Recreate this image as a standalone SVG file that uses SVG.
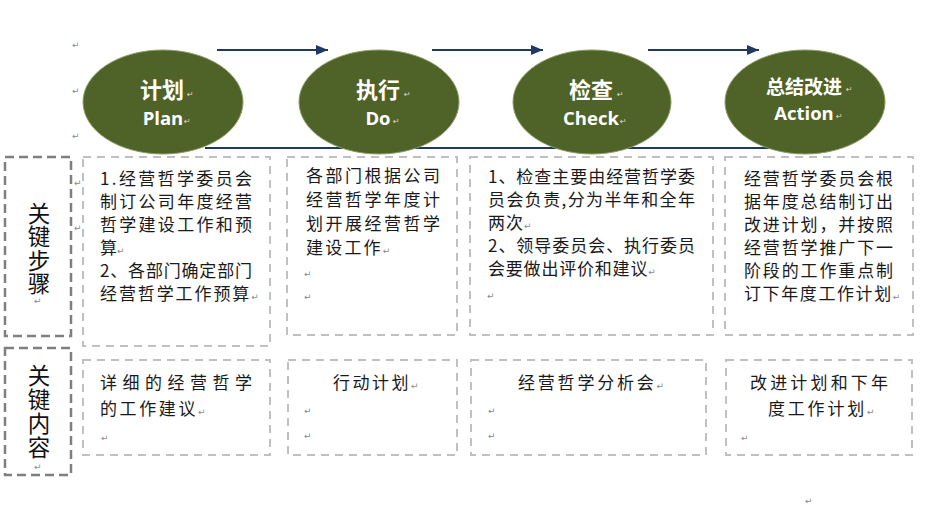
<svg xmlns="http://www.w3.org/2000/svg" width="929" height="505" viewBox="0 0 929 505">
<defs>
<marker id="ah" viewBox="0 0 12 10" refX="12" refY="5" markerWidth="12" markerHeight="10" markerUnits="userSpaceOnUse" orient="auto">
<path d="M0,0 L12,5 L0,10 Z" fill="#1f3864"/>
</marker>
</defs>
<style>
.ell{fill:#4f6228;stroke:#8c9c62;stroke-width:1}
.eh{font-family:"Noto Sans CJK SC","Noto Sans",sans-serif;font-weight:700;fill:#fff;text-anchor:middle}
.ee{font-family:"Open Sans","Noto Sans",sans-serif;font-weight:700;fill:#fff;text-anchor:middle;font-size:18.5px}
.box{fill:none;stroke:#c0c0c0;stroke-width:2;stroke-dasharray:8 6}
.lab{fill:none;stroke:#7f7f7f;stroke-width:2.5;stroke-dasharray:9 5}
.t{font-family:"Noto Sans CJK SC","Noto Sans",sans-serif;font-size:17px;fill:#1a1a1a}
.lt{font-family:"Noto Sans CJK SC","Noto Sans",sans-serif;font-size:22.5px;fill:#111;writing-mode:vertical-rl;text-orientation:upright}
.pm{font-family:"DejaVu Sans",sans-serif;font-size:9px;fill:#8a8a8a}
.pw{font-family:"DejaVu Sans",sans-serif;font-size:8px;fill:#d8dcc8}
.cn{stroke:#1f3864;stroke-width:2;fill:none}
</style>
<rect width="929" height="505" fill="#fff"/>

<g id="connectors">
<line class="cn" x1="205" y1="148" x2="790" y2="148"/>
<line class="cn" x1="217" y1="50" x2="328" y2="50" marker-end="url(#ah)"/>
<line class="cn" x1="432" y1="50" x2="543" y2="50" marker-end="url(#ah)"/>
<line class="cn" x1="648" y1="50" x2="759" y2="50" marker-end="url(#ah)"/>
</g>

<g id="marks" class="pm">
<text x="72" y="48">↵</text>
<text x="72" y="94">↵</text>
<text x="72" y="139">↵</text>
<text x="74" y="186">↵</text>
<text x="74" y="231">↵</text>
<text x="805" y="504">↵</text>
</g>

<g id="plan">
<ellipse class="ell" cx="163" cy="102" rx="80" ry="52"/>
<text class="eh" x="162" y="98" font-size="22">计划</text>
<text class="ee" x="163" y="124.5">Plan</text>
<text class="pw" x="187" y="97">↵</text>
<text class="pw" x="184" y="124">↵</text>
</g>
<g id="do">
<ellipse class="ell" cx="379" cy="102" rx="80" ry="52"/>
<text class="eh" x="378" y="98" font-size="22">执行</text>
<text class="ee" x="378" y="124.5">Do</text>
<text class="pw" x="404" y="97">↵</text>
<text class="pw" x="393" y="124">↵</text>
</g>
<g id="check">
<ellipse class="ell" cx="592" cy="102" rx="79" ry="52"/>
<text class="eh" x="591" y="98" font-size="22">检查</text>
<text class="ee" x="591" y="124.5">Check</text>
<text class="pw" x="617" y="97">↵</text>
<text class="pw" x="620" y="124">↵</text>
</g>
<g id="action">
<ellipse class="ell" cx="805" cy="102" rx="80" ry="52"/>
<text class="eh" x="804" y="94" font-size="19">总结改进</text>
<text class="ee" x="804" y="119.5">Action</text>
<text class="pw" x="846" y="92">↵</text>
<text class="pw" x="836" y="119">↵</text>
</g>

<g id="label-steps">
<rect class="lab" x="5" y="157" width="66" height="179"/>
<text class="lt" x="39" y="202" letter-spacing="1">关键步骤</text>
<text class="pm" x="34" y="304" font-size="7">↵</text>
</g>

<g id="plan-steps">
<rect class="box" x="83" y="157" width="187" height="189"/>
<text class="t" x="100" y="184.5" textLength="152" lengthAdjust="spacing">1.经营哲学委员会</text>
<text class="t" x="100" y="207.5" textLength="152" lengthAdjust="spacing">制订公司年度经营</text>
<text class="t" x="100" y="230.5" textLength="152" lengthAdjust="spacing">哲学建设工作和预</text>
<text class="t" x="100" y="253.5">算<tspan class="pm">↵</tspan></text>
<text class="t" x="100" y="276.5" textLength="152" lengthAdjust="spacing">2、各部门确定部门</text>
<text class="t" x="100" y="299.5" letter-spacing="1.9">经营哲学工作预算<tspan class="pm" letter-spacing="0">↵</tspan></text>
</g>

<g id="do-steps">
<rect class="box" x="287" y="157" width="170" height="178"/>
<text class="t" x="306" y="181.5" textLength="134" lengthAdjust="spacing">各部门根据公司</text>
<text class="t" x="306" y="205.5" textLength="134" lengthAdjust="spacing">经营哲学年度计</text>
<text class="t" x="306" y="229.5" textLength="134" lengthAdjust="spacing">划开展经营哲学</text>
<text class="t" x="306" y="253.5" letter-spacing="2.2">建设工作<tspan class="pm" letter-spacing="0">↵</tspan></text>
<text class="pm" x="304" y="277">↵</text>
<text class="pm" x="304" y="300">↵</text>
</g>

<g id="check-steps">
<rect class="box" x="470" y="157" width="243" height="178"/>
<text class="t" x="488" y="183" textLength="207" lengthAdjust="spacing">1、检查主要由经营哲学委</text>
<text class="t" x="488" y="206" textLength="207" lengthAdjust="spacing">员会负责,分为半年和全年</text>
<text class="t" x="488" y="229" letter-spacing="1">两次<tspan class="pm" letter-spacing="0">↵</tspan></text>
<text class="t" x="488" y="252" textLength="207" lengthAdjust="spacing">2、领导委员会、执行委员</text>
<text class="t" x="488" y="275" letter-spacing="0.8">会要做出评价和建议<tspan class="pm" letter-spacing="0">↵</tspan></text>
<text class="pm" x="487" y="299">↵</text>
</g>

<g id="action-steps">
<rect class="box" x="725" y="157" width="188" height="178"/>
<text class="t" x="744" y="184.5" textLength="149" lengthAdjust="spacing">经营哲学委员会根</text>
<text class="t" x="744" y="207.5" textLength="149" lengthAdjust="spacing">据年度总结制订出</text>
<text class="t" x="744" y="230.5" textLength="149" lengthAdjust="spacing">改进计划，并按照</text>
<text class="t" x="744" y="253.5" textLength="149" lengthAdjust="spacing">经营哲学推广下一</text>
<text class="t" x="744" y="276.5" textLength="149" lengthAdjust="spacing">阶段的工作重点制</text>
<text class="t" x="744" y="299.5" letter-spacing="1.6">订下年度工作计划<tspan class="pm" letter-spacing="0">↵</tspan></text>
</g>

<g id="label-content">
<rect class="lab" x="5" y="348" width="66" height="127"/>
<text class="lt" x="39" y="364" letter-spacing="1.5">关键内容</text>
<text class="pm" x="34" y="470" font-size="7">↵</text>
</g>

<g id="plan-content">
<rect class="box" x="83" y="360" width="187" height="95"/>
<text class="t" x="100" y="388.5" textLength="152" lengthAdjust="spacing">详细的经营哲学</text>
<text class="t" x="100" y="414.5" letter-spacing="2.6">的工作建议<tspan class="pm" letter-spacing="0">↵</tspan></text>
<text class="pm" x="101" y="441">↵</text>
</g>

<g id="do-content">
<rect class="box" x="288" y="360" width="169" height="95"/>
<text class="t" x="333" y="388.5" letter-spacing="2.5">行动计划<tspan class="pm" letter-spacing="0">↵</tspan></text>
<text class="pm" x="304" y="414">↵</text>
<text class="pm" x="304" y="439">↵</text>
</g>

<g id="check-content">
<rect class="box" x="471" y="360" width="235" height="95"/>
<text class="t" x="518" y="388.5" letter-spacing="2.8">经营哲学分析会<tspan class="pm" letter-spacing="0">↵</tspan></text>
<text class="pm" x="488" y="414">↵</text>
<text class="pm" x="488" y="439">↵</text>
</g>

<g id="action-content">
<rect class="box" x="726" y="360" width="186" height="95"/>
<text class="t" x="750" y="388.5" textLength="138" lengthAdjust="spacing">改进计划和下年</text>
<text class="t" x="768" y="414.5" letter-spacing="2.8">度工作计划<tspan class="pm" letter-spacing="0">↵</tspan></text>
<text class="pm" x="741" y="441">↵</text>
</g>
</svg>
